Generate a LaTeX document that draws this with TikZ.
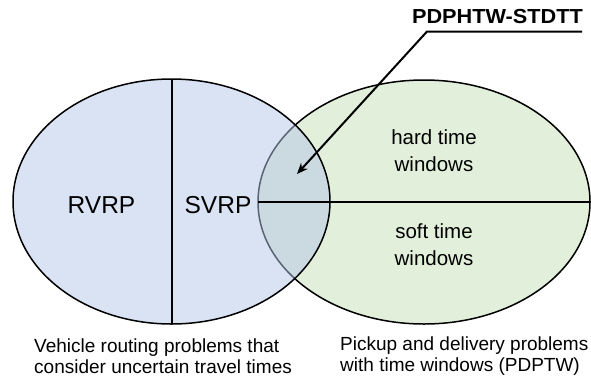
\documentclass[tikz,border=0pt]{standalone}
\usepackage{fontspec}
\setmainfont{Liberation Sans}
\newfontfamily\ptrfont{Liberation Sans}[FakeStretch=1.07]
\usetikzlibrary{shapes.geometric,arrows.meta}
\definecolor{setblue}{RGB}{181,199,231}
\definecolor{setgreen}{RGB}{226,239,218}
\begin{document}
\begin{tikzpicture}[x=1pt,y=-1pt,
  setell/.style={ellipse, draw=black, line width=1.5pt, inner sep=0pt, outer sep=0pt},
  divider/.style={draw=black, line width=2pt},
  lbl/.style={inner sep=0pt, anchor=base, align=center},
  bigtxt/.style={font=\fontsize{24.5}{29}\selectfont},
  midtxt/.style={font=\fontsize{20.5}{27}\selectfont},
  captxt/.style={inner sep=0pt, anchor=base west, align=left, font=\fontsize{19}{21}\selectfont},
]
\useasboundingbox (0,0) rectangle (591,381);
\node[setell, fill=setgreen, minimum width=332, minimum height=244] (R) at (424,202) {};
\node[setell, fill=setblue, fill opacity=0.5, minimum width=317, minimum height=245] (L) at (171.5,201.5) {};
\draw[divider] (R.west) -- (R.east);
\draw[divider] (L.north) -- (L.south);
\node[lbl, bigtxt] (rvrp) at (101.5,213) {RVRP};
\node[lbl, bigtxt] (svrp) at (218,213) {SVRP};
\node[lbl, midtxt] (hard) at (434,171) {hard time\\windows};
\node[lbl, midtxt] (soft) at (434,265) {soft time\\windows};
\node[captxt] (vr) at (34,373) {Vehicle routing problems that\\consider uncertain travel times};
\node[captxt] (pd) at (340,371) {Pickup and delivery problems\\with time windows (PDPTW)};
\node[lbl, font=\ptrfont\bfseries\fontsize{20.3}{24}\selectfont] (pdp) at (497.5,23) {PDPHTW-STDTT};
\coordinate (bendR) at (582,31.5);
\coordinate (bend) at (427,31.5);
\coordinate (tip) at (297,174);
\draw[line width=2pt, -{Stealth[length=11pt,width=9pt]}] (bendR) -- (bend) -- (tip);
\end{tikzpicture}
\end{document}
